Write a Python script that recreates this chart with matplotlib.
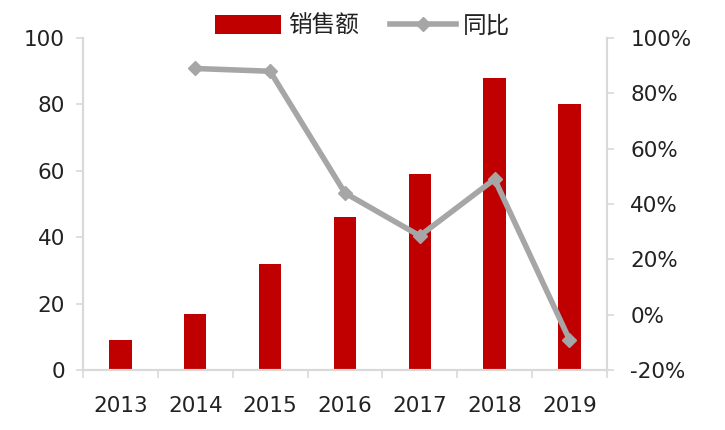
import numpy as np
import matplotlib.pyplot as plt
from matplotlib.ticker import FuncFormatter

plt.rcParams['font.family'] = ['DejaVu Sans', 'Noto Sans CJK SC']

# Данные
years = ['2013', '2014', '2015', '2016', '2017', '2018', '2019']
sales = [9, 17, 32, 46, 59, 88, 80]
yoy_years = ['2014', '2015', '2016', '2017', '2018', '2019']
yoy = [89, 88, 44, 28.5, 49, -9]

x = np.arange(len(years))
x_yoy = np.array([years.index(y) for y in yoy_years])

fig = plt.figure(figsize=(7.25, 4.3), dpi=100)
ax = fig.add_axes([0.1145, 0.1395, 0.7225, 0.772])
ax2 = ax.twinx()

bars = ax.bar(x, sales, width=0.3, color='#C00000', label='销售额', zorder=2)
line, = ax2.plot(x_yoy, yoy, color='#A6A6A6', lw=4, marker='D', ms=7,
                 label='同比', zorder=3)

ax.set_xlim(-0.5, len(years) - 0.5)
ax.set_ylim(0, 100)
ax.set_yticks(np.arange(0, 101, 20))
ax2.set_ylim(-20, 100)
ax2.set_yticks(np.arange(-20, 101, 20))
ax2.yaxis.set_major_formatter(FuncFormatter(lambda v, p: f'{v:.0f}%'))

# Засечки по границам категорий
ax.set_xticks(np.arange(-0.5, len(years), 1))
ax.set_xticklabels([])
ax.set_xticks(x, minor=True)
ax.set_xticklabels(years, minor=True)
ax.tick_params(axis='x', which='minor', length=0, pad=19, labelsize=15.5, labelcolor='#222222')
ax.tick_params(axis='x', which='major', length=6, color='#D9D9D9', width=1.2)

ax.tick_params(axis='y', length=5, color='#D9D9D9', width=1.2, labelsize=15.5, pad=8,
               labelcolor='#222222')
ax2.tick_params(axis='y', length=5, color='#D9D9D9', width=1.2, labelsize=15.5, pad=12,
                labelcolor='#222222')

for a in (ax, ax2):
    a.spines['top'].set_visible(False)
    for s in ('left', 'right', 'bottom'):
        a.spines[s].set_color('#D9D9D9')
        a.spines[s].set_linewidth(1.5)
ax.set_zorder(ax2.get_zorder() - 1)
ax2.patch.set_visible(False)

fig.legend([bars, line], ['销售额', '同比'], loc='center', bbox_to_anchor=(0.5, 0.94),
           ncol=2, frameon=False, fontsize=17, handlelength=2.8, handleheight=0.9,
           columnspacing=1.3, handletextpad=0.3, labelcolor='#222222')

plt.savefig('out.png', dpi=100)
